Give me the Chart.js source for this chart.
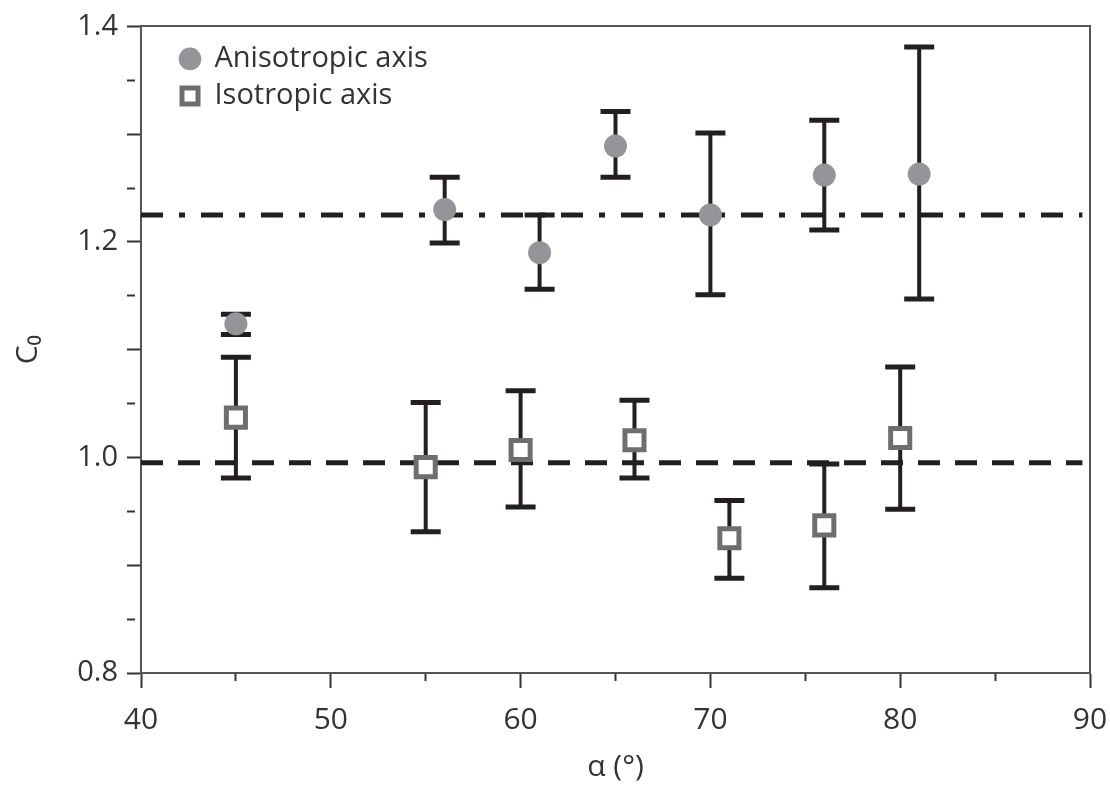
<!DOCTYPE html>
<html>
<head>
<meta charset="utf-8">
<script src="https://cdn.jsdelivr.net/npm/chart.js@4.4.0/dist/chart.umd.min.js"></script>
<style>
  html, body { margin: 0; padding: 0; background: #fff; }
</style>
</head>
<body>
<canvas id="myChart" width="1110" height="785"></canvas>
<script>
// anisotropic axis: angle, C0, error bar ends
var anisoX = [45, 56, 61, 65, 70, 76, 81];
var anisoY = [1.124, 1.230, 1.190, 1.289, 1.225, 1.262, 1.263];
var anisoLow = [1.114, 1.199, 1.156, 1.260, 1.151, 1.211, 1.147];
var anisoHigh = [1.133, 1.260, 1.225, 1.321, 1.301, 1.313, 1.381];

// isotropic axis
var isoX = [45, 55, 60, 66, 71, 76, 80];
var isoY = [1.037, 0.991, 1.007, 1.016, 0.925, 0.937, 1.018];
var isoLow = [0.981, 0.931, 0.954, 0.981, 0.888, 0.879, 0.952];
var isoHigh = [1.093, 1.051, 1.062, 1.053, 0.960, 0.994, 1.084];

// mean lines
var meanX = [40, 89.6];
var anisoMean = 1.225;
var isoMean = 0.995;

var seriesNames = ['Anisotropic axis', 'Isotropic axis'];

var FONT = "'Open Sans', 'DejaVu Sans', sans-serif";
var INK = '#231f20';

function points(xs, ys) {
    return xs.map(function(x, i) { return {x: x, y: ys[i]}; });
}

var errorBars = {
    id: 'errorBars',
    beforeDatasetsDraw: function(chart) {
        var ctx = chart.ctx;
        var sx = chart.scales.x, sy = chart.scales.y;
        var sets = [[anisoX, anisoLow, anisoHigh], [isoX, isoLow, isoHigh]];
        ctx.save();
        ctx.strokeStyle = INK;
        sets.forEach(function(s) {
            for (var i = 0; i < s[0].length; i++) {
                var px = sx.getPixelForValue(s[0][i]);
                var lo = sy.getPixelForValue(s[1][i]);
                var hi = sy.getPixelForValue(s[2][i]);
                ctx.lineWidth = 4;
                ctx.beginPath();
                ctx.moveTo(px, lo);
                ctx.lineTo(px, hi);
                ctx.stroke();
                ctx.lineWidth = 5;
                ctx.beginPath();
                ctx.moveTo(px - 15, lo); ctx.lineTo(px + 15, lo);
                ctx.moveTo(px - 15, hi); ctx.lineTo(px + 15, hi);
                ctx.stroke();
            }
        });
        ctx.restore();
    }
};

// put the legend inside the plot, top left
var legendPlace = {
    id: 'legendPlace',
    afterLayout: function(chart) {
        var lg = chart.legend, area = chart.chartArea;
        if (!lg) return;
        lg.left = area.left + 31;
        lg.right = area.right;
        lg.top = area.top + 10;
        lg.bottom = area.bottom;
    }
};

var ctx = document.getElementById('myChart').getContext('2d');
var chart = new Chart(ctx, {
    type: 'scatter',
    data: {
        datasets: [{
            label: seriesNames[0],
            data: points(anisoX, anisoY),
            pointStyle: 'circle',
            pointRadius: 11.5,
            backgroundColor: '#939598',
            borderColor: '#939598',
            borderWidth: 0
        }, {
            label: seriesNames[1],
            data: points(isoX, isoY),
            pointStyle: 'rect',
            pointRadius: 13.5,
            backgroundColor: '#ffffff',
            borderColor: '#6d6e71',
            borderWidth: 5
        }, {
            label: 'anisoMean',
            data: points(meanX, [anisoMean, anisoMean]),
            showLine: true,
            pointRadius: 0,
            borderColor: INK,
            borderWidth: 5,
            borderDash: [22, 16, 6, 16],
            fill: false
        }, {
            label: 'isoMean',
            data: points(meanX, [isoMean, isoMean]),
            showLine: true,
            pointRadius: 0,
            borderColor: INK,
            borderWidth: 5,
            borderDash: [22, 15],
            fill: false
        }]
    },
    options: {
        responsive: false,
        animation: false,
        events: [],
        layout: { padding: { top: 26, right: 20, left: 0, bottom: 0 } },
        plugins: {
            tooltip: { enabled: false },
            legend: {
                position: 'chartArea',
                align: 'start',
                labels: {
                    usePointStyle: true,
                    boxWidth: 20,
                    boxHeight: 16,
                    padding: 8,
                    color: '#333',
                    font: { family: FONT, size: 29 },
                    filter: function(item) { return item.datasetIndex < 2; }
                }
            }
        },
        scales: {
            x: {
                type: 'linear',
                min: 40,
                max: 90,
                afterFit: function(s) {
                    s.height = 112;
                    s.paddingLeft = 0;
                    s.paddingRight = 0;
                },
                ticks: {
                    stepSize: 5,
                    autoSkip: false,
                    maxRotation: 0,
                    padding: 14,
                    color: '#333',
                    font: { family: FONT, size: 30 },
                    callback: function(v) { return v % 10 === 0 ? v : ''; }
                },
                grid: {
                    drawOnChartArea: false,
                    tickLength: 15,
                    tickWidth: 2,
                    tickColor: '#333',
                    tickBorderDash: function(c) {
                        return c.tick && c.tick.value % 10 !== 0 ? [7, 100] : [];
                    }
                },
                border: { color: '#555', width: 2 },
                title: {
                    display: true,
                    text: 'α (°)',
                    color: '#333',
                    font: { family: FONT, size: 30 },
                    padding: { top: 0, bottom: 0 }
                }
            },
            y: {
                type: 'linear',
                min: 0.8,
                max: 1.4,
                afterFit: function(s) { s.width = 141; },
                ticks: {
                    stepSize: 0.05,
                    autoSkip: false,
                    padding: 9,
                    color: '#333',
                    font: { family: FONT, size: 29 },
                    callback: function(v) {
                        return Math.abs(v * 5 - Math.round(v * 5)) < 1e-6 ? v.toFixed(1) : '';
                    }
                },
                grid: {
                    drawOnChartArea: false,
                    tickLength: 14,
                    tickWidth: 2,
                    tickColor: '#333',
                    tickBorderDash: function(c) {
                        if (!c.tick) return [];
                        var t = c.tick.value * 10;
                        return Math.abs(t - Math.round(t)) > 1e-6 ? [8, 100] : [];
                    }
                },
                border: { color: '#555', width: 2 },
                title: {
                    display: true,
                    text: 'C₀',
                    color: '#333',
                    font: { family: FONT, size: 30 },
                    padding: { top: 10, bottom: 0 }
                }
            },
            xTop: {
                type: 'linear',
                position: 'top',
                min: 40,
                max: 90,
                afterFit: function(s) { s.height = 0; },
                ticks: { display: false },
                grid: { display: false },
                border: { color: '#555', width: 2 }
            },
            yRight: {
                type: 'linear',
                position: 'right',
                min: 0.8,
                max: 1.4,
                afterFit: function(s) { s.width = 0; },
                ticks: { display: false },
                grid: { display: false },
                border: { color: '#555', width: 2 }
            }
        }
    },
    plugins: [errorBars, legendPlace]
});
</script>
</body>
</html>
